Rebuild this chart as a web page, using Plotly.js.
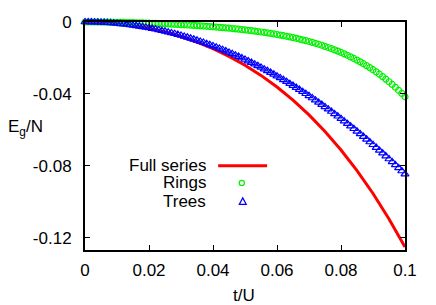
<!DOCTYPE html>
<html>
<head>
<meta charset="utf-8">
<script src="https://cdn.plot.ly/plotly-3.0.1.min.js"></script>
<style>
html,body{margin:0;padding:0;background:#fff;}
#chart{width:436px;height:305px;}
</style>
</head>
<body>
<div id="chart"></div>
<script>
// t/U sample points for the full-series curve
const tFull = [0, 0.005, 0.01, 0.015, 0.02, 0.025, 0.03, 0.035, 0.04, 0.045, 0.05,
  0.055, 0.06, 0.065, 0.07, 0.075, 0.08, 0.085, 0.09, 0.095, 0.1];
const fullSeries = [0, -0.00022, -0.00087, -0.00196, -0.00352, -0.00555, -0.00809, -0.01116, -0.01481, -0.01908, -0.02401,
  -0.02967, -0.03611, -0.04339, -0.0516, -0.06081, -0.07111, -0.08257, -0.09531, -0.10942, -0.125];

// t/U sample points for the Rings / Trees markers
const tPts = [0,0.001,0.002,0.003,0.004,0.005,0.006,0.007,0.008,0.009,
  0.01,0.011,0.012,0.013,0.014,0.015,0.016,0.017,0.018,0.019,
  0.02,0.021,0.022,0.023,0.024,0.025,0.026,0.027,0.028,0.029,
  0.03,0.031,0.032,0.033,0.034,0.035,0.036,0.037,0.038,0.039,
  0.04,0.041,0.042,0.043,0.044,0.045,0.046,0.047,0.048,0.049,
  0.05,0.051,0.052,0.053,0.054,0.055,0.056,0.057,0.058,0.059,
  0.06,0.061,0.062,0.063,0.064,0.065,0.066,0.067,0.068,0.069,
  0.07,0.071,0.072,0.073,0.074,0.075,0.076,0.077,0.078,0.079,
  0.08,0.081,0.082,0.083,0.084,0.085,0.086,0.087,0.088,0.089,
  0.09,0.091,0.092,0.093,0.094,0.095,0.096,0.097,0.098,0.099,0.1];

const rings = [0,0,-0.00001,-0.00001,-0.00003,-0.00004,-0.00006,-0.00008,-0.0001,-0.00013,
  -0.00016,-0.00019,-0.00023,-0.00027,-0.00031,-0.00036,-0.00041,-0.00046,-0.00052,-0.00058,
  -0.00064,-0.00071,-0.00078,-0.00085,-0.00093,-0.00101,-0.00109,-0.00118,-0.00127,-0.00136,
  -0.00146,-0.00156,-0.00167,-0.00178,-0.00189,-0.00201,-0.00213,-0.00226,-0.00239,-0.00252,
  -0.00266,-0.00281,-0.00296,-0.00312,-0.00328,-0.00345,-0.00363,-0.00381,-0.004,-0.00419,
  -0.0044,-0.00461,-0.00483,-0.00506,-0.0053,-0.00555,-0.0058,-0.00607,-0.00635,-0.00664,
  -0.00695,-0.00727,-0.0076,-0.00794,-0.0083,-0.00868,-0.00907,-0.00948,-0.00991,-0.01036,
  -0.01084,-0.01132,-0.01183,-0.01236,-0.01292,-0.01354,-0.01416,-0.0148,-0.01548,-0.01618,
  -0.01692,-0.0177,-0.01851,-0.01936,-0.02025,-0.02118,-0.02215,-0.02317,-0.02423,-0.02535,
  -0.02651,-0.02773,-0.029,-0.03034,-0.03173,-0.03319,-0.03471,-0.0363,-0.03796,-0.03969,-0.0415];

const trees = [0,-0.00001,-0.00003,-0.00007,-0.00013,-0.00021,-0.0003,-0.00041,-0.00053,-0.00067,
  -0.00083,-0.001,-0.0012,-0.0014,-0.00163,-0.00187,-0.00213,-0.0024,-0.00269,-0.003,
  -0.00332,-0.00366,-0.00402,-0.00439,-0.00479,-0.00519,-0.00562,-0.00606,-0.00652,-0.00699,
  -0.00748,-0.00799,-0.00851,-0.00906,-0.00961,-0.01019,-0.01078,-0.01139,-0.01202,-0.01266,
  -0.01332,-0.01399,-0.01469,-0.0154,-0.01613,-0.01687,-0.01763,-0.01841,-0.0192,-0.02001,
  -0.02084,-0.02169,-0.02255,-0.02343,-0.02433,-0.02524,-0.02618,-0.02713,-0.02809,-0.02907,
  -0.03007,-0.03109,-0.03213,-0.03318,-0.03425,-0.03534,-0.03644,-0.03756,-0.0387,-0.03986,
  -0.04103,-0.04222,-0.04343,-0.04466,-0.0459,-0.04716,-0.04844,-0.04974,-0.05105,-0.05238,
  -0.05373,-0.0551,-0.05649,-0.05789,-0.05931,-0.06075,-0.06221,-0.06368,-0.06517,-0.06669,
  -0.06821,-0.06976,-0.07133,-0.07291,-0.07451,-0.07613,-0.07777,-0.07942,-0.0811,-0.08279,-0.0845];

const seriesNames = ["Full series", "Rings", "Trees"];
const xTickVals = [0, 0.02, 0.04, 0.06, 0.08, 0.1];
const xTickText = ["0", "0.02", "0.04", "0.06", "0.08", "0.1"];
const yTickVals = [0, -0.04, -0.08, -0.12];
const yTickText = ["0", "-0.04", "-0.08", "-0.12"];

const FONT = "Liberation Sans, Arial, sans-serif";
const FS = 17;
const RED = "#ff0000", GREEN = "#00f000", BLUE = "#0000ff";

const traces = [
  {x: tFull, y: fullSeries, name: seriesNames[0], type: "scatter", mode: "lines",
   line: {color: RED, width: 3}, showlegend: false, cliponaxis: true},
  {x: tPts, y: rings, name: seriesNames[1], type: "scatter", mode: "markers",
   marker: {symbol: "circle-open", size: 6, color: GREEN, line: {width: 1.2, color: GREEN}},
   showlegend: false, cliponaxis: false},
  {x: tPts, y: trees, name: seriesNames[2], type: "scatter", mode: "markers",
   marker: {symbol: "triangle-up-open", size: 7, color: BLUE, line: {width: 1.2, color: BLUE}},
   showlegend: false, cliponaxis: false}
];

const axisCommon = {
  showgrid: false, zeroline: false, showline: true, linecolor: "#000", linewidth: 2,
  ticks: "inside", ticklen: 5, tickwidth: 1, tickcolor: "#000", mirror: "ticks",
  tickfont: {family: FONT, size: FS, color: "#000"}, tickmode: "array"
};

// legend rows (paper coords)
const legY = [0.370, 0.294, 0.212];
const legTextX = 0.381;

const layout = {
  width: 436, height: 305,
  margin: {l: 85, r: 31, t: 22, b: 55},
  paper_bgcolor: "#fff", plot_bgcolor: "#fff",
  showlegend: false,
  xaxis: Object.assign({}, axisCommon, {range: [0, 0.1], tickvals: xTickVals, ticktext: xTickText,
    ticklabelstandoff: 4}),
  yaxis: Object.assign({}, axisCommon, {range: [-0.1267, 0], tickvals: yTickVals, ticktext: yTickText,
    ticklabelstandoff: 8}),
  annotations: [
    {text: "E<sub>g</sub>/N", xref: "paper", yref: "paper", x: (6 - 85) / 320, y: (250 - 128) / 228,
     xanchor: "left", yanchor: "middle", showarrow: false, font: {family: FONT, size: FS, color: "#000"}},
    {text: "t/U", xref: "paper", yref: "paper", x: (244 - 85) / 320, y: (250 - 295) / 228,
     xanchor: "center", yanchor: "middle", showarrow: false, font: {family: FONT, size: FS, color: "#000"}}
  ].concat(seriesNames.map((n, i) => ({
     text: n, xref: "paper", yref: "paper", x: legTextX, y: legY[i], xanchor: "right", yanchor: "middle",
     height: 17, borderpad: 0, valign: "middle",
     showarrow: false, font: {family: FONT, size: FS, color: "#000"}
  }))),
  shapes: [
    {type: "line", xref: "paper", yref: "paper", x0: 0.416, x1: 0.569, y0: legY[0], y1: legY[0],
     line: {color: RED, width: 3}},
    {type: "circle", xref: "paper", yref: "paper",
     x0: 0.49 - 2.6 / 320, x1: 0.49 + 2.6 / 320, y0: legY[1] - 2.6 / 228, y1: legY[1] + 2.6 / 228,
     line: {color: GREEN, width: 1.2}},
    {type: "path", xref: "paper", yref: "paper",
     path: "M " + (0.493 - 3.5 / 320) + "," + (legY[2] - 2.8 / 228) +
           " L " + (0.493 + 3.5 / 320) + "," + (legY[2] - 2.8 / 228) +
           " L " + 0.493 + "," + (legY[2] + 3.8 / 228) + " Z",
     line: {color: BLUE, width: 1.2}}
  ]
};

Plotly.newPlot("chart", traces, layout, {staticPlot: true, displayModeBar: false});
</script>
</body>
</html>
